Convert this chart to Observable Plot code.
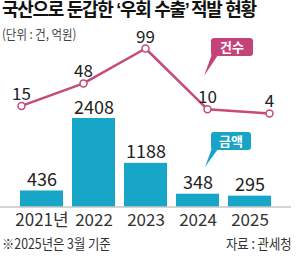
<!DOCTYPE html>
<html><head><meta charset="utf-8">
<script src="https://cdn.jsdelivr.net/npm/d3@7"></script>
<script src="https://cdn.jsdelivr.net/npm/@observablehq/plot@0.6"></script>
<style>
body{margin:0;background:#fff;}
#wrap{position:relative;width:300px;height:260px;overflow:hidden;font-family:"Noto Sans CJK KR",sans-serif;}
.t{position:absolute;white-space:nowrap;transform-origin:0 0;line-height:1;}
#title{left:2px;top:1px;font-size:18px;font-weight:700;color:#111;letter-spacing:-1.3px;font-family:"Liberation Sans","Noto Sans CJK KR",sans-serif;}
#sub{left:2px;top:27px;font-size:13px;color:#444;transform:scaleX(0.88);}
#note{left:2px;top:236px;font-size:14px;color:#333;transform:scaleX(0.88);}
#src{right:8px;top:236px;font-size:14px;color:#333;transform:scaleX(0.88);transform-origin:100% 0;}
.layer{position:absolute;left:0;top:0;}
.badge{position:absolute;color:#fff;font-weight:700;font-size:13px;border-radius:3px;text-align:center;line-height:18px;height:18px;}
</style></head>
<body><div id="wrap">
<div id="title" class="t">국산으로 둔갑한 ‘우회 수출’ 적발 현황</div>
<div id="sub" class="t">(단위 : 건, 억원)</div>
<div id="bars" class="layer"></div>
<div id="line" class="layer"></div>
<svg class="layer" width="300" height="260" style="pointer-events:none">
  <polygon points="212,54 218,55 204,76" fill="#c4437a"/>
  <polygon points="212,148 218,149 205,167" fill="#18a4c6"/>
</svg>
<div class="badge" style="left:211px;top:38px;width:42px;background:#c4437a">건수</div>
<div class="badge" style="left:211px;top:132px;width:40px;background:#18a4c6">금액</div>
<div id="note" class="t">※2025년은 3월 기준</div>
<div id="src" class="t">자료 : 관세청</div>
</div>
<script>
const years = ["2021", "2022", "2023", "2024", "2025"];
const yearLabels = ["2021년", "2022", "2023", "2024", "2025"];
const amounts = [436, 2408, 1188, 348, 295];   // 억원
const counts = [15, 48, 99, 10, 4];            // 건

const rows = years.map((y, i) => ({year: y, amount: amounts[i], count: counts[i], label: yearLabels[i]}));
const numFont = '"Liberation Sans Narrow","Arial Narrow","Noto Sans CJK KR",sans-serif';

const xScale = {domain: years, padding: 0.18};

const bars = Plot.plot({
  width: 300, height: 232,
  marginLeft: 9, marginRight: 19, marginTop: 0, marginBottom: 25.5,
  x: {...xScale, label: null, tickSize: 0, tickPadding: 7, tickFormat: d => yearLabels[years.indexOf(d)]},
  y: {domain: [0, 2408], range: [206.5, 118], axis: null},
  style: {fontFamily: numFont, fontSize: "17px", color: "#333", background: "transparent"},
  marks: [
    Plot.barY(rows, {x: "year", y: "amount", fill: "#17a6c8"}),
    Plot.ruleY([0], {stroke: "#aaa", strokeWidth: 1, insetLeft: -9, insetRight: -10}),
    Plot.text(rows, {x: "year", y: "amount", text: d => String(d.amount), dy: -5, lineAnchor: "bottom",
      fontSize: 18, fill: "#222", fontFamily: numFont})
  ]
});
document.getElementById("bars").appendChild(bars);

const line = Plot.plot({
  width: 300, height: 232,
  marginLeft: 9, marginRight: 19, marginTop: 0, marginBottom: 25.5,
  x: {...xScale, axis: null},
  y: {domain: [0, 99], range: [115.7, 48], axis: null},
  style: {background: "transparent"},
  marks: [
    Plot.lineY(rows, {x: "year", y: "count", stroke: "#c64a7b", strokeWidth: 2.5}),
    Plot.dot(rows, {x: "year", y: "count", r: 3.5, fill: "#fff", stroke: "#c64a7b", strokeWidth: 1.5}),
    Plot.text(rows, {x: "year", y: "count", text: d => String(d.count), dy: -6, lineAnchor: "bottom",
      fontSize: 17, fill: "#222", fontFamily: numFont})
  ]
});
document.getElementById("line").appendChild(line);
</script>
</body></html>
